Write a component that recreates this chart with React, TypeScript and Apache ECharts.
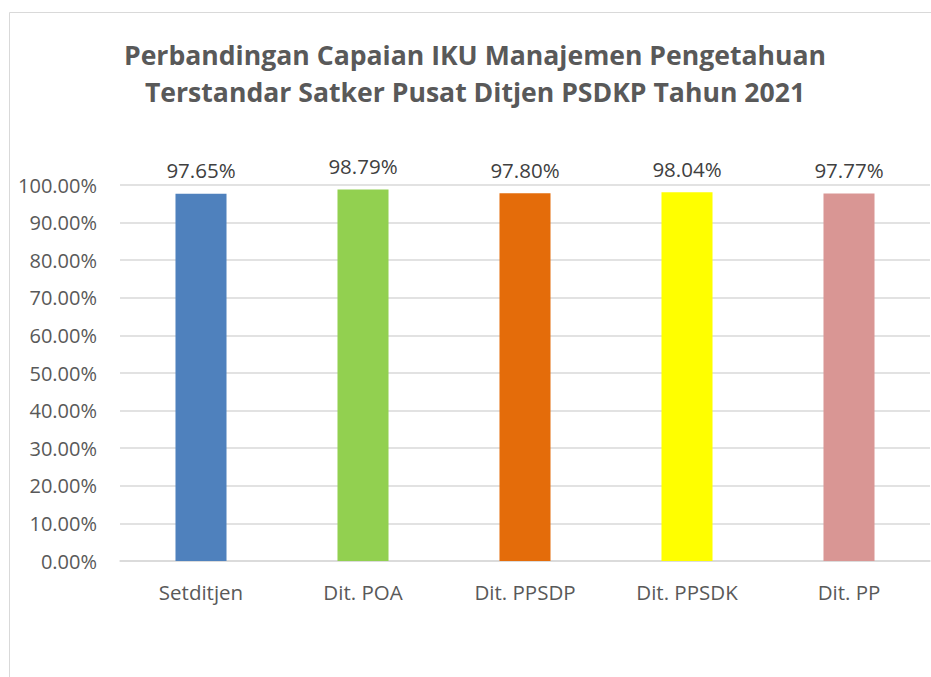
import React, { useEffect, useRef } from "react";
import * as echarts from "echarts";

const categories = ["Setditjen", "Dit. POA", "Dit. PPSDP", "Dit. PPSDK", "Dit. PP"];
const values = [97.65, 98.79, 97.8, 98.04, 97.77];
const barColors = ["#4f81bd", "#92d050", "#e46c0a", "#ffff00", "#d99694"];
const titleLines = [
  "Perbandingan Capaian IKU Manajemen Pengetahuan",
  "Terstandar Satker Pusat Ditjen PSDKP Tahun 2021",
];

export default function App() {
  const ref = useRef<HTMLDivElement>(null);
  useEffect(() => {
    document.body.style.margin = "0";
    if (!ref.current) return;
    const chart = echarts.init(ref.current, undefined, { renderer: "svg" });
    const font = "'Open Sans', sans-serif";
    chart.setOption({
      animation: false,
      backgroundColor: "#ffffff",
      title: {
        text: titleLines.join("\n"),
        left: 470,
        textAlign: "center",
        top: 31,
        textStyle: {
          fontFamily: font,
          fontWeight: "bold",
          fontSize: 26.6,
          color: "#595959",
          lineHeight: 37,
        },
      },
      graphic: [
        {
          type: "rect",
          shape: { x: 9.5, y: 12.5, width: 1000, height: 800 },
          style: { fill: "none", stroke: "#d9d9d9", lineWidth: 1 },
          silent: true,
        },
      ],
      grid: { left: 120, right: 1, top: 185, bottom: 116 },
      xAxis: {
        type: "category",
        data: categories,
        axisLine: { lineStyle: { color: "#d9d9d9", width: 1.5 } },
        axisTick: { show: false },
        axisLabel: {
          color: "#595959",
          fontFamily: font,
          fontSize: 20.5,
          margin: 20,
        },
      },
      yAxis: {
        type: "value",
        min: 0,
        max: 100,
        interval: 10,
        axisLine: { show: false },
        axisTick: { show: false },
        splitLine: { lineStyle: { color: "#d9d9d9", width: 1.5 } },
        axisLabel: {
          color: "#595959",
          fontFamily: font,
          fontSize: 20,
          margin: 23,
          formatter: (v: number) => v.toFixed(2) + "%",
        },
      },
      series: [
        {
          type: "bar",
          barWidth: "31.5%",
          data: values.map((v, i) => ({ value: v, itemStyle: { color: barColors[i] } })),
          label: {
            show: true,
            position: "top",
            distance: 13,
            color: "#404040",
            fontFamily: font,
            fontSize: 20.5,
            formatter: (p: any) => p.value.toFixed(2) + "%",
          },
        },
      ],
    });
    return () => chart.dispose();
  }, []);
  return <div ref={ref} style={{ width: 931, height: 677 }} />;
}
